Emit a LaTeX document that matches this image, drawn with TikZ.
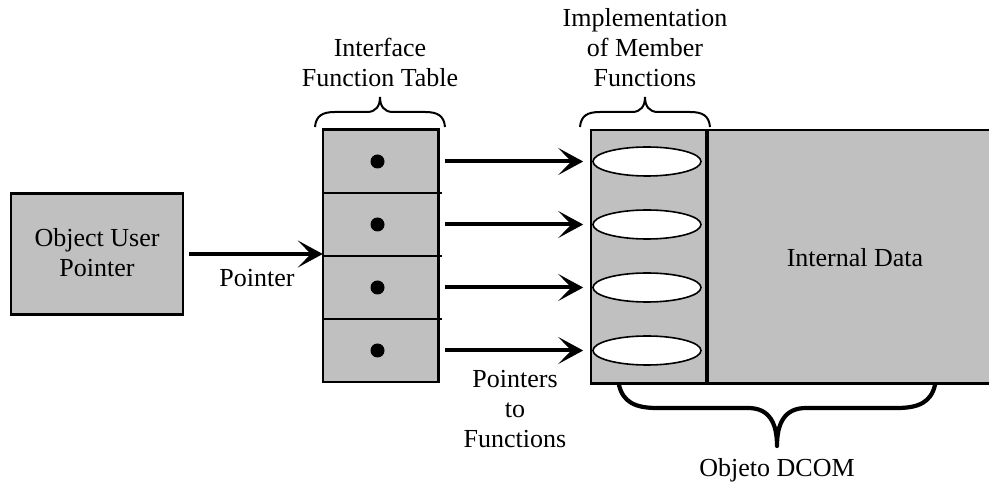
\documentclass[tikz,border=0pt]{standalone}
\usepackage{fontspec}
\setmainfont{Liberation Serif}
\usetikzlibrary{arrows.meta,shapes.geometric}

\definecolor{boxgray}{HTML}{C0C0C0}

\tikzset{
  lbl/.style={font=\fontsize{26}{30}\selectfont, align=center, inner sep=0pt},
  cell/.style={fill=boxgray, draw=none, minimum width=115pt, minimum height=63pt, inner sep=0pt},
  frame/.style={draw=black, line width=2.6pt},
  divider/.style={draw=black, line width=1.4pt},
  slot/.style={ellipse, draw=black, fill=white, line width=1.6pt, minimum width=108pt, minimum height=29pt, inner sep=0pt},
  ptr/.style={line width=4pt, -{Stealth[length=25pt,width=27pt,inset=13pt]}},
  thinbrace/.style={draw=black, line width=2pt},
  thickbrace/.style={draw=black, line width=4.2pt, line cap=round, line join=round},
}

\begin{document}
\begin{tikzpicture}[x=1pt, y=-1pt]
  \useasboundingbox (0,0) rectangle (989,486);

  % object user pointer box
  \node[fill=boxgray, frame, minimum width=172pt, minimum height=121pt, inner sep=0pt] (user) at (97,254) {};
  \node[lbl] (userlbl) at (97,253) {Object User\\Pointer};

  % interface function table
  \node[cell] (r1) at (380.5,161.5) {};
  \node[cell] (r2) at (380.5,224.5) {};
  \node[cell] (r3) at (380.5,287.5) {};
  \node[cell] (r4) at (380.5,350.5) {};
  \draw[divider] (r1.south west) -- ([xshift=4pt]r1.south east);
  \draw[divider] (r2.south west) -- ([xshift=4pt]r2.south east);
  \draw[divider] (r3.south west) -- ([xshift=4pt]r3.south east);
  \draw[frame] (r1.north west) rectangle (r4.south east);
  \coordinate (tblwest) at (r1.north west);
  \foreach \r in {r1,r2,r3,r4} \fill (\r) ++(-3pt,0) circle (7pt);

  % DCOM object: member functions column and internal data
  \node[fill=boxgray, minimum width=116pt, minimum height=253pt, inner sep=0pt, anchor=north west] (impl) at (591,130) {};
  \node[fill=boxgray, minimum width=282pt, minimum height=253pt, inner sep=0pt, anchor=north west] (data) at (707,130) {};
  \draw[frame] (data.north east) -- (impl.north west) -- (impl.south west) -- (data.south east);
  \draw[black, line width=4pt] (impl.north east) -- (impl.south east);
  \node[lbl] (datalbl) at (855,258) {Internal Data};

  \node[slot] (e1) at (647,161.5) {};
  \node[slot] (e2) at (647,224.5) {};
  \node[slot] (e3) at (647,287.5) {};
  \node[slot] (e4) at (647,350.5) {};

  % pointers
  \draw[ptr, shorten <=5pt] (user.east) -- (user.east -| tblwest);
  \node[lbl] (ptrlbl) at (257,278) {Pointer};
  \foreach \i in {1,2,3,4}
    \draw[ptr, shorten <=7pt, shorten >=9pt] (r\i) -- (e\i);
  \node[lbl] (fnlbl) at (515,409) {Pointers\\to\\Functions};

  % braces and captions
  \draw[thinbrace] (315,127) .. controls (316,116) and (322,112) .. (335,112) -- (367,112)
     .. controls (376,112) and (380,106) .. (380,97)
     .. controls (380,106) and (384,112) .. (393,112) -- (425,112)
     .. controls (438,112) and (444,116) .. (445,127);
  \node[lbl] (tbllbl) at (380,62) {Interface\\Function Table};

  \draw[thinbrace] (580,127) .. controls (581,116) and (587,112) .. (600,112) -- (632,112)
     .. controls (641,112) and (645,106) .. (645,97)
     .. controls (645,106) and (649,112) .. (658,112) -- (690,112)
     .. controls (703,112) and (709,116) .. (710,127);
  \node[lbl] (impllbl) at (645,48) {Implementation\\of Member\\Functions};

  \draw[thickbrace] (619,385) .. controls (623,402) and (635,408) .. (657,408) -- (748,408)
     .. controls (770,408) and (777,424) .. (777,446)
     .. controls (777,424) and (784,408) .. (806,408) -- (897,408)
     .. controls (919,408) and (931,402) .. (935,385);
  \node[lbl] (dcomlbl) at (777,470) {Objeto DCOM};
\end{tikzpicture}
\end{document}
